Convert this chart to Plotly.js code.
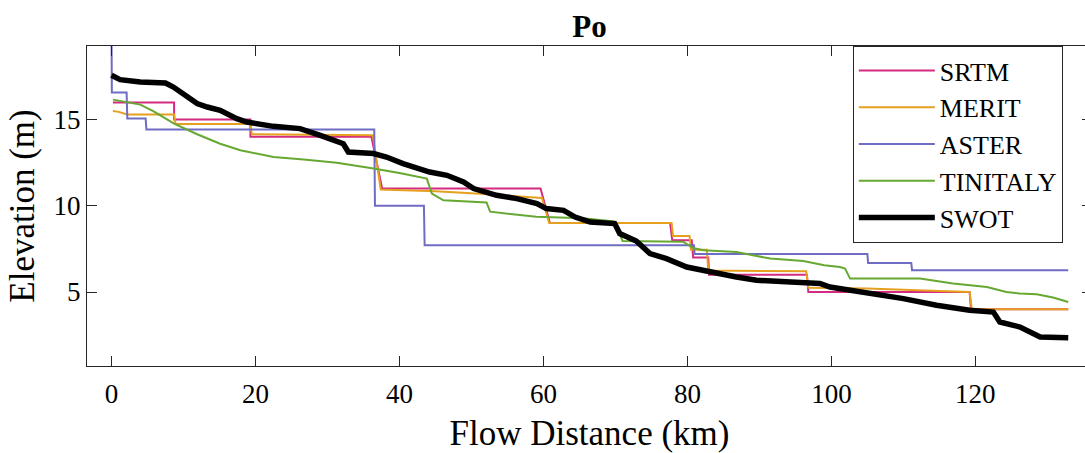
<!DOCTYPE html>
<html>
<head>
<meta charset="utf-8">
<script src="https://cdn.plot.ly/plotly-3.0.1.min.js"></script>
<style>
  html, body { margin: 0; padding: 0; overflow: hidden; background: #fff; }
  #chart { width: 1100px; height: 453px; }
</style>
</head>
<body>
<div id="chart"></div>
<script>
// Flow distance (km) / elevation (m)
const srtmX = [0.2, 8.7, 8.7, 19.3, 19.3, 36.1, 37.6, 59.6, 60.9, 77.6, 77.9, 80.6, 80.8, 82.9, 83.0, 96.6, 96.8, 119.2, 119.4, 132.9];
const srtmY = [16, 16, 15, 15, 14, 14, 11, 11, 9, 9, 8, 8, 7, 7, 6, 6, 5, 5, 4, 4];

const meritX = [0.2, 1.0, 2.2, 8.7, 8.9, 19.3, 19.5, 36.3, 37.4, 45, 51.2, 58.5, 59.8, 60.8, 77.8, 78.0, 80.3, 80.5, 82.7, 82.9, 96.5, 96.8, 105, 112, 119.2, 119.5, 132.9];
const meritY = [15.5, 15.45, 15.3, 15.3, 14.75, 14.75, 14.15, 14.1, 10.95, 10.85, 10.7, 10.5, 10.45, 9.0, 9.0, 8.25, 8.25, 7.45, 7.45, 6.25, 6.2, 5.25, 5.2, 5.1, 5.0, 4.0, 4.0];

const asterX = [0.0, 0.05, 2.1, 2.2, 4.75, 4.85, 36.5, 36.6, 43.4, 43.5, 80.9, 81.0, 105.0, 105.1, 111.1, 111.2, 132.9];
const asterY = [20.5, 16.57, 16.57, 15.06, 15.06, 14.42, 14.42, 10.0, 10.0, 7.71, 7.71, 7.2, 7.2, 6.68, 6.68, 6.27, 6.27];

const tinitalyX = [0.2, 2.15, 4.0, 5.86, 8.7, 11.9, 15.1, 17.9, 22.5, 26.7, 31.3, 36.4, 40.0, 43.8, 44.5, 46.1, 52.1, 52.6, 55.8, 59.0, 65.5, 69.8, 71.0, 79.4, 80.8, 82.2, 86.8, 91.5, 96.1, 99.0, 101.2, 101.9, 102.6, 112.3, 116.9, 121.6, 124.3, 126.2, 128.5, 130.8, 132.9];
const tinitalyY = [16.16, 16.02, 15.87, 15.48, 14.77, 14.15, 13.6, 13.22, 12.83, 12.68, 12.5, 12.16, 11.9, 11.58, 10.71, 10.32, 10.2, 9.66, 9.52, 9.36, 9.28, 9.1, 7.96, 7.92, 7.55, 7.42, 7.32, 6.94, 6.8, 6.55, 6.45, 6.36, 5.78, 5.78, 5.49, 5.29, 5.0, 4.91, 4.87, 4.68, 4.42];

const swotX = [0, 1.2, 4.0, 7.5, 8.6, 10.0, 11.9, 13.3, 15.1, 17.4, 18.8, 22.5, 26.2, 29.0, 30.3, 31.3, 32.2, 32.9, 36.4, 38.2, 40.5, 44.2, 46.6, 48.9, 50.3, 53.5, 56.3, 59.1, 60.4, 62.8, 64.4, 66.5, 69.9, 70.6, 72.9, 74.8, 77.1, 79.9, 83.1, 86.8, 89.6, 96.1, 98.4, 99.8, 101.2, 105.3, 110.0, 114.6, 119.2, 122.5, 123.4, 126.2, 129.0, 132.9];
const swotY = [17.57, 17.32, 17.18, 17.12, 16.89, 16.5, 15.93, 15.73, 15.54, 15.06, 14.86, 14.61, 14.48, 14.09, 13.9, 13.75, 13.6, 13.12, 13.03, 12.83, 12.45, 11.96, 11.77, 11.38, 11.0, 10.61, 10.42, 10.13, 9.84, 9.74, 9.35, 9.06, 8.97, 8.39, 7.96, 7.23, 6.94, 6.45, 6.16, 5.87, 5.68, 5.58, 5.5, 5.29, 5.2, 4.91, 4.62, 4.23, 3.94, 3.84, 3.26, 2.97, 2.39, 2.35];

const xTicks = [0, 20, 40, 60, 80, 100, 120];
const yTicks = [5, 10, 15];

const serif = "'Liberation Serif', 'DejaVu Serif', serif";
const axisColor = '#262626';

const traces = [
  {name: 'SRTM', x: srtmX, y: srtmY, color: '#d42a80', width: 2},
  {name: 'MERIT', x: meritX, y: meritY, color: '#e6a020', width: 2},
  {name: 'ASTER', x: asterX, y: asterY, color: '#6f6cc4', width: 2},
  {name: 'TINITALY', x: tinitalyX, y: tinitalyY, color: '#66a832', width: 2},
  {name: 'SWOT', x: swotX, y: swotY, color: '#000000', width: 5.5}
].map(t => ({
  type: 'scatter', mode: 'lines', name: t.name, x: t.x, y: t.y,
  line: {color: t.color, width: t.width, shape: 'linear'},
  hoverinfo: 'skip'
}));

const axisCommon = {
  showgrid: false, zeroline: false, showline: true, mirror: 'ticks',
  linecolor: axisColor, linewidth: 1,
  ticks: 'inside', ticklen: 10, tickwidth: 1, tickcolor: axisColor,
  tickfont: {family: serif, size: 27, color: '#000'}
};

const layout = {
  width: 1100, height: 453,
  margin: {l: 87, r: 8, t: 46, b: 87, pad: 0},
  paper_bgcolor: '#fff', plot_bgcolor: '#fff',
  showlegend: true,
  title: {
    text: '<b>Po</b>',
    font: {family: serif, size: 31, color: '#000'},
    x: 0.5, xref: 'paper', xanchor: 'center',
    y: 1 - 26 / 453, yref: 'container', yanchor: 'middle'
  },
  xaxis: Object.assign({}, axisCommon, {
    range: [-3.4, 136.2], tickmode: 'array', tickvals: xTicks,
    ticktext: xTicks.map(String), ticklabelstandoff: 4,
    title: {text: 'Flow Distance (km)', font: {family: serif, size: 35, color: '#000'}, standoff: 14}
  }),
  yaxis: Object.assign({}, axisCommon, {
    range: [0.71, 19.27], tickmode: 'array', tickvals: yTicks,
    ticktext: yTicks.map(String),
    title: {text: 'Elevation (m)', font: {family: serif, size: 35, color: '#000'}, standoff: 8}
  }),
  legend: {
    x: 0.762, y: 1, xanchor: 'left', yanchor: 'top',
    bgcolor: '#fff', bordercolor: axisColor, borderwidth: 1,
    font: {family: serif, size: 26, color: '#000'},
    itemwidth: 76, tracegroupgap: 0
  }
};

Plotly.newPlot('chart', traces, layout, {staticPlot: true, displayModeBar: false});
</script>
</body>
</html>
